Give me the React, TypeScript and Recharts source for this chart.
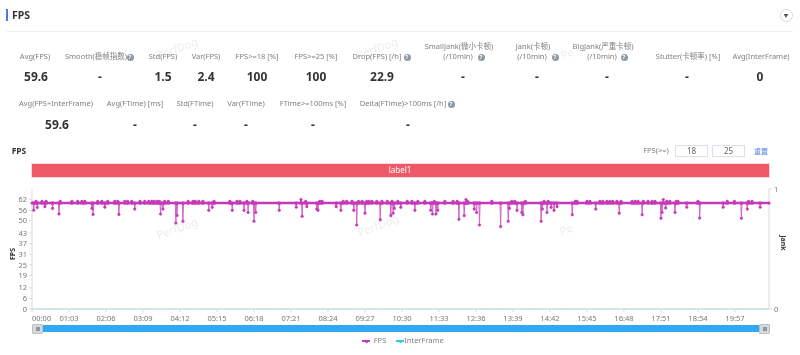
import { Line, LineChart, XAxis, YAxis } from "recharts";

// readings, in seconds from the start of the run
const dipSeconds = [3, 9, 22, 35, 46, 102, 104, 124, 148, 175, 219, 223, 245, 247, 257, 301, 307, 341, 361, 368, 378, 381, 421, 450, 460, 468, 485, 487, 518, 526, 548, 553, 567, 593, 611, 615, 617, 628, 652, 679, 682, 688, 691, 727, 736, 753, 757, 762, 798, 811, 813, 826, 834, 836, 867, 869, 877, 884, 889, 894, 920, 960, 1000, 1039, 1071, 1073, 1079, 1095, 1115, 1137, 1177, 1208, 1218, 1240];
const dipFps = [56, 57.5, 58, 57, 53.8, 57, 53.6, 57.7, 53.6, 56.6, 53.8, 56.6, 48.7, 53, 49.7, 55.9, 57.6, 55.9, 55.9, 54.7, 49.7, 54.7, 55.9, 57.7, 52.5, 58, 56.6, 55.9, 58, 55.9, 55.9, 47.6, 54.3, 50.6, 52.9, 54.3, 57, 57.6, 55.9, 55.9, 53.8, 53.8, 55.9, 50.8, 52.9, 56.6, 54.7, 47.6, 46.7, 49.7, 57, 55.9, 54.7, 53.4, 49.7, 56.6, 54.7, 57.6, 55.9, 58, 53.4, 56.6, 54.3, 53.4, 51.4, 54.7, 57.2, 54.7, 57.7, 51.5, 57.7, 51.4, 56.6, 57.7];

const peakSeconds = [7, 17, 24, 48, 68, 78, 85, 90, 112, 119, 129, 141, 146, 158, 163, 170, 184, 192, 199, 204, 208, 213, 217, 226, 232, 266, 274, 278, 284, 291, 310, 337, 349, 354, 366, 376, 458, 466, 490, 494, 530, 536, 545, 556, 562, 570, 574, 579, 587, 596, 605, 613, 623, 639, 647, 657, 669, 685, 703, 717, 724, 739, 742, 783, 817, 822, 840, 872, 879, 925, 928, 945, 950, 967, 972, 979, 984, 989, 996, 1003, 1022, 1027, 1032, 1041, 1049, 1056, 1061, 1075, 1081, 1086, 1097, 1100, 1134, 1184, 1196, 1220, 1226];
const peakFps = [61, 61, 61, 61, 61, 61, 61, 61, 61, 61, 61, 61, 61, 61, 61, 61, 61, 61, 61, 61, 61, 61, 61, 61, 61, 61, 61, 61, 61, 61, 61, 61, 61, 61, 61, 61, 62, 61, 61, 61, 61, 61, 61, 61, 61, 61, 61, 61, 61, 61, 61, 61, 61, 61, 61, 61, 61, 61, 61, 61, 61, 62, 61, 61, 61, 61, 61, 61, 61, 61, 61, 61, 61, 61, 61, 61, 61, 61, 61, 61, 61, 61, 61, 61, 61, 61, 61, 62, 61, 61, 61, 61, 61, 61, 61, 61, 61];

const restFps = 60;
const lastSecond = 1255;

const timeTicks = [0, 63, 126, 189, 252, 315, 378, 441, 504, 567, 630, 693, 756, 819, 882, 945, 1008, 1071, 1134, 1197];
const fpsTicks = [0, 6, 12, 19, 25, 31, 37, 43, 50, 56, 62];

const topLabels = ["Avg(FPS)", "Smooth(稳帧指数)", "Std(FPS)", "Var(FPS)", "FPS>=18 [%]", "FPS>=25 [%]", "Drop(FPS) [/h]", "Stutter(卡顿率) [%]", "Avg(InterFrame)"];
const topLabelX = [35, 96, 163, 206, 257, 316, 377, 688, 761];
const topValues = ["59.6", "-", "1.5", "2.4", "100", "100", "22.9", "-", "-", "-", "-", "0"];
const topValueX = [36, 100, 163, 206, 257, 316, 382, 463, 537, 607, 687, 760];
const jankLabels = ["SmallJank(微小卡顿)", "Jank(卡顿)", "BigJank(严重卡顿)"];
const jankLabelX = [459, 533, 603];
const lowerLabels = ["Avg(FPS+InterFrame)", "Avg(FTime) [ms]", "Std(FTime)", "Var(FTime)", "FTime>=100ms [%]", "Delta(FTime)>100ms [/h]"];
const lowerLabelX = [56, 135, 195, 246, 313, 403];
const lowerValues = ["59.6", "-", "-", "-", "-", "-"];
const lowerValueX = [57, 135, 195, 246, 313, 408];
const helpIcons = [[130, 57], [407, 57], [481, 57], [555, 57], [624, 57], [451, 104]];
const watermarks = [[177, 48, "PerfDog"], [377, 48, "PerfDog"], [567, 53, "Pe"], [177, 228, "PerfDog"], [378, 225, "PerfDog"], [566, 229, "Pe"]];

const buildRows = () => {
  const bySecond = new Map<number, number>();
  dipSeconds.forEach((s, i) => bySecond.set(s, dipFps[i]));
  peakSeconds.forEach((s, i) => bySecond.set(s, peakFps[i]));
  const readings = [...bySecond.keys()];
  // the run sits at 60 between the readings, so every spike starts and ends there
  [0, lastSecond].forEach((s) => { if (!bySecond.has(s)) bySecond.set(s, restFps); });
  readings.forEach((s) => {
    [s - 1, s + 1].forEach((n) => { if (n >= 0 && !bySecond.has(n)) bySecond.set(n, restFps); });
  });
  return [...bySecond.entries()]
    .sort((a, b) => a[0] - b[0])
    .map(([second, fps]) => ({ second, fps, rest: restFps, interFrame: 0 }));
};

const rows = buildRows();

const formatTime = (s: number) => {
  const pad = (n: number) => String(n).padStart(2, "0");
  return `${pad(Math.floor(s / 60))}:${pad(s % 60)}`;
};

const TimeTick = ({ x, y, payload }: any) => (
  <text x={x} y={y + 7} fontSize={7.5} fill="#777" textAnchor={payload.value === 0 ? "start" : "middle"}>
    {formatTime(payload.value)}
  </text>
);

const Text = ({ x, y, color = "#808080", size = 7.5, bold = false, rotate = 0, children }: any) => (
  <span style={{ position: "absolute", left: x, top: y, transform: `translate(-50%, -50%) rotate(${rotate}deg)`, whiteSpace: "nowrap", color, fontSize: size, fontWeight: bold ? 700 : 400, lineHeight: 1 }}>
    {children}
  </span>
);

const Help = ({ x, y }: { x: number; y: number }) => (
  <span style={{ position: "absolute", left: x - 3.5, top: y - 3.5, width: 7, height: 7, borderRadius: "50%", background: "#8d99a6", color: "#fff", fontSize: 6, lineHeight: "7px", textAlign: "center", fontWeight: 700 }}>?</span>
);

const Handle = ({ x }: { x: number }) => (
  <div style={{ position: "absolute", left: x, top: 324, width: 11, height: 10, background: "#d5d8dc", border: "1px solid #bcc0c5", boxSizing: "border-box", borderRadius: 1 }}>
    <div style={{ position: "absolute", left: 3, top: 2, width: 4, height: 4, background: "#8f959c" }} />
  </div>
);

const InputBox = ({ x, value }: { x: number; value: string }) => (
  <div style={{ position: "absolute", left: x, top: 145, width: 33, height: 12, border: "1px solid #dcdfe6", boxSizing: "border-box", color: "#666", fontSize: 8, lineHeight: "10px", textAlign: "center" }}>{value}</div>
);

const LegendKey = ({ x, color }: { x: number; color: string }) => (
  <div style={{ position: "absolute", left: x, top: 340, width: 8, height: 2, background: color }}>
    <div style={{ position: "absolute", left: 2.5, top: -0.5, width: 3, height: 3, borderRadius: "50%", background: color }} />
  </div>
);

export default function App() {
  return (
    <div style={{ position: "absolute", left: 0, top: 0, width: 800, height: 355, overflow: "hidden", background: "#fff", fontFamily: "'Noto Sans', 'Noto Sans CJK SC', sans-serif", filter: "blur(0.3px)" }}>
      <div style={{ position: "absolute", left: 6, top: 9, width: 2, height: 12, background: "#4a78e8" }} />
      <Text x={21} y={15} color="#333" size={10.5} bold>FPS</Text>
      <div style={{ position: "absolute", left: 6, top: 31, width: 787, height: 1, background: "#eef0f2" }} />
      <div style={{ position: "absolute", left: 779.5, top: 8.5, width: 13, height: 13, borderRadius: "50%", border: "1px solid #d5d8dc", boxSizing: "border-box" }} />
      <Text x={786} y={15} color="#555" size={5}>▼</Text>

      {watermarks.map(([x, y, t], i) => (
        <span key={i} style={{ position: "absolute", left: x as number, top: y as number, transform: "translate(-50%, -50%) rotate(-20deg)", color: "#eceef0", fontSize: 11 }}>{t}</span>
      ))}

      {topLabels.map((t, i) => <Text key={t} x={topLabelX[i]} y={57}>{t}</Text>)}
      {jankLabels.map((t, i) => <Text key={t} x={jankLabelX[i]} y={47}>{t}</Text>)}
      {jankLabelX.map((x) => <Text key={x} x={x - 1} y={57}>(/10min)</Text>)}
      {topValues.map((t, i) => <Text key={i} x={topValueX[i]} y={77} color="#333" size={12} bold>{t}</Text>)}
      {lowerLabels.map((t, i) => <Text key={t} x={lowerLabelX[i]} y={104}>{t}</Text>)}
      {lowerValues.map((t, i) => <Text key={i} x={lowerValueX[i]} y={125} color="#333" size={12} bold>{t}</Text>)}
      {helpIcons.map(([x, y], i) => <Help key={i} x={x} y={y} />)}

      <Text x={19} y={151} color="#333" size={8.5} bold>FPS</Text>
      <Text x={656} y={151}>FPS(&gt;=)</Text>
      <InputBox x={675} value="18" />
      <InputBox x={712} value="25" />
      <Text x={761} y={151} color="#4a80f0" size={7}>重置</Text>

      <div style={{ position: "absolute", left: 32, top: 164, width: 737, height: 13, background: "#f05a68", boxShadow: "0 0 0 1px #fbd5d8" }} />
      <Text x={400} y={170} color="#fff" size={8}>label1</Text>

      <LineChart width={800} height={355} data={rows} margin={{ top: 189, right: 1, bottom: 0, left: 2 }} style={{ position: "absolute", left: 0, top: 0 }}>
        <XAxis dataKey="second" type="number" domain={[0, lastSecond]} ticks={timeTicks} interval={0} tick={<TimeTick />} tickSize={3} height={46} stroke="#d3dae6" />
        <YAxis yAxisId="fps" domain={[0, 68]} ticks={fpsTicks} interval={0} tickSize={3} width={30} stroke="#d3dae6" tick={{ fontSize: 7.5, fill: "#777" }} />
        <YAxis yAxisId="jank" orientation="right" domain={[0, 1]} ticks={[0, 1]} tickSize={3} width={30} stroke="#d3dae6" tick={{ fontSize: 7.5, fill: "#777" }} />
        <Line yAxisId="jank" dataKey="interFrame" name="InterFrame" stroke="#a9dfe4" strokeWidth={1} dot={false} isAnimationActive={false} />
        <Line yAxisId="fps" dataKey="fps" name="FPS" stroke="#d263ca" strokeWidth={1} dot={{ r: 1.3, fill: "#c43bb7", stroke: "#c43bb7", strokeWidth: 0.5 }} isAnimationActive={false} />
        <Line yAxisId="fps" dataKey="rest" legendType="none" stroke="#c43bb7" strokeWidth={2.5} dot={false} isAnimationActive={false} />
      </LineChart>

      <Text x={12} y={254} color="#333" size={7} bold rotate={-90}>FPS</Text>
      <Text x={783} y={243} color="#333" size={7} bold rotate={90}>Jank</Text>

      <div style={{ position: "absolute", left: 36, top: 325, width: 728, height: 7, background: "#2fa9f2" }} />
      <Handle x={32} />
      <Handle x={759} />

      <LegendKey x={362} color="#c43bb7" />
      <Text x={380} y={341} size={7.5}>FPS</Text>
      <LegendKey x={396} color="#25cfe6" />
      <Text x={424} y={341} size={7.5}>InterFrame</Text>
    </div>
  );
}
